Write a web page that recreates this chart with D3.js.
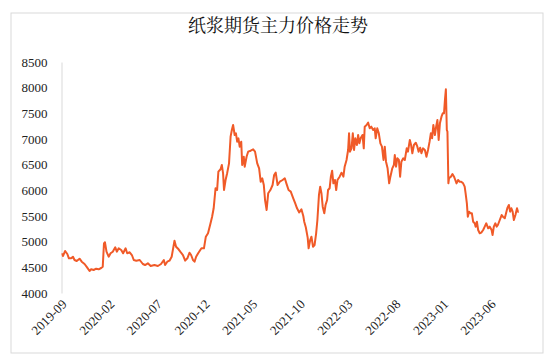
<!DOCTYPE html>
<html><head><meta charset="utf-8">
<script src="https://cdn.jsdelivr.net/npm/d3@7"></script>
<style>
html,body{margin:0;padding:0;background:#fff;}
svg{display:block;}
.tick text{font-family:"Liberation Serif","Times New Roman",serif;}
</style></head>
<body>
<svg id="chart" width="550" height="359"></svg>
<script>
const title = "纸浆期货主力价格走势";
const yTicks = [4000,4500,5000,5500,6000,6500,7000,7500,8000,8500];
const xTickLabels = ["2019-09","2020-02","2020-07","2020-12","2021-05","2021-10","2022-03","2022-08","2023-01","2023-06"];
const dates = [
"2019-09-02","2019-09-04","2019-09-11","2019-09-18","2019-09-23","2019-09-30","2019-10-06","2019-10-11","2019-10-18","2019-10-27",
"2019-11-03","2019-11-12","2019-11-20","2019-11-28","2019-12-03","2019-12-11","2019-12-19","2019-12-27","2020-01-04","2020-01-09",
"2020-01-13","2020-01-16","2020-01-21","2020-01-28","2020-02-03","2020-02-10","2020-02-18","2020-02-23","2020-02-29","2020-03-08",
"2020-03-14","2020-03-22","2020-03-27","2020-04-04","2020-04-11","2020-04-17","2020-04-25","2020-05-06","2020-05-16","2020-05-23",
"2020-06-01","2020-06-10","2020-06-22","2020-07-03","2020-07-13","2020-07-22","2020-07-26","2020-08-02","2020-08-09","2020-08-16",
"2020-08-25","2020-08-30","2020-09-07","2020-09-13","2020-09-21","2020-09-28","2020-10-05","2020-10-12","2020-10-17","2020-10-23",
"2020-10-28","2020-11-02","2020-11-09","2020-11-19","2020-11-27","2020-12-03","2020-12-10","2020-12-18","2020-12-23","2020-12-28",
"2021-01-03","2021-01-08","2021-01-12","2021-01-19","2021-01-23","2021-01-27","2021-01-30","2021-02-04","2021-02-09","2021-02-15",
"2021-02-20","2021-02-24","2021-02-28","2021-03-05","2021-03-09","2021-03-13","2021-03-17","2021-03-21","2021-03-26","2021-03-29",
"2021-04-03","2021-04-06","2021-04-12","2021-04-17","2021-04-25","2021-05-03","2021-05-09","2021-05-16","2021-05-22","2021-05-27",
"2021-06-01","2021-06-06","2021-06-10","2021-06-15","2021-06-20","2021-06-27","2021-07-04","2021-07-09","2021-07-14","2021-07-20",
"2021-07-27","2021-08-05","2021-08-12","2021-08-17","2021-08-24","2021-08-31","2021-09-08","2021-09-14","2021-09-20","2021-09-27",
"2021-10-04","2021-10-10","2021-10-13","2021-10-18","2021-10-24","2021-10-27","2021-11-01","2021-11-05","2021-11-10","2021-11-15",
"2021-11-20","2021-11-24","2021-11-29","2021-12-03","2021-12-07","2021-12-11","2021-12-16","2021-12-20","2021-12-25","2021-12-28",
"2022-01-02","2022-01-06","2022-01-10","2022-01-14","2022-01-19","2022-01-23","2022-01-27","2022-02-03","2022-02-09","2022-02-15",
"2022-02-19","2022-02-25","2022-03-02","2022-03-05","2022-03-08","2022-03-13","2022-03-17","2022-03-21","2022-03-25","2022-03-30",
"2022-04-03","2022-04-07","2022-04-11","2022-04-17","2022-04-21","2022-04-24","2022-04-30","2022-05-05","2022-05-10","2022-05-15",
"2022-05-21","2022-05-26","2022-05-29","2022-06-03","2022-06-08","2022-06-13","2022-06-18","2022-06-23","2022-06-27","2022-07-01",
"2022-07-06","2022-07-11","2022-07-15","2022-07-21","2022-07-26","2022-07-29","2022-08-02","2022-08-06","2022-08-11","2022-08-15",
"2022-08-19","2022-08-25","2022-08-30","2022-09-05","2022-09-09","2022-09-15","2022-09-19","2022-09-23","2022-09-28","2022-10-04",
"2022-10-09","2022-10-13","2022-10-18","2022-10-22","2022-10-27","2022-11-02","2022-11-07","2022-11-12","2022-11-17","2022-11-21",
"2022-11-25","2022-11-29","2022-12-04","2022-12-08","2022-12-12","2022-12-16","2022-12-20","2022-12-25","2022-12-29","2023-01-02",
"2023-01-05","2023-01-08","2023-01-11","2023-01-13","2023-01-16","2023-01-18","2023-01-24","2023-01-29","2023-02-03","2023-02-07",
"2023-02-11","2023-02-16","2023-02-21","2023-02-26","2023-03-04","2023-03-09","2023-03-12","2023-03-16","2023-03-19","2023-03-23",
"2023-03-28","2023-04-01","2023-04-05","2023-04-10","2023-04-13","2023-04-17","2023-04-21","2023-04-26","2023-05-01","2023-05-07",
"2023-05-12","2023-05-17","2023-05-23","2023-05-28","2023-06-03","2023-06-06","2023-06-10","2023-06-15","2023-06-19","2023-06-23",
"2023-06-29","2023-07-05","2023-07-09","2023-07-15","2023-07-19","2023-07-23","2023-07-28","2023-08-01","2023-08-05","2023-08-09",
"2023-08-13","2023-08-18","2023-08-23","2023-08-26","2023-08-29"
];
const prices = [
4773,4720,4818,4760,4676,4676,4707,4643,4623,4668,
4610,4565,4500,4428,4462,4448,4473,4462,4487,4512,
4968,4988,4805,4707,4773,4805,4890,4805,4871,4838,
4773,4871,4773,4793,4740,4643,4630,4643,4565,4545,
4578,4526,4545,4526,4565,4643,4545,4610,4630,4707,
5019,4902,4851,4800,4740,4630,4676,4785,4740,4643,
4610,4707,4780,4871,4871,5097,5163,5358,5486,5650,
6040,6006,6363,6410,6494,6332,6006,6201,6332,6526,
7045,7175,7273,7078,7111,6948,7013,6850,6948,6494,
6655,6460,6655,6753,6772,6799,6753,6526,6429,6168,
6234,6104,5812,5617,5942,6006,6104,6299,6344,6104,
6168,6201,6234,6136,6006,5974,5845,5750,5650,5570,
5630,5500,5389,5280,5080,4871,5032,5097,4902,4935,
5163,5422,5909,6071,5942,5681,5552,5714,5812,6006,
6040,6266,6383,6136,6201,6006,6201,6266,6344,6266,
6460,6591,6786,7111,6753,6818,7111,6786,7013,6883,
7078,6916,7013,7078,6818,7240,7273,7318,7208,7240,
7175,7208,7013,7208,7111,6916,6850,6591,6850,6558,
6429,6136,6266,6429,6494,6688,6460,6624,6591,6266,
6558,6624,6591,6818,6753,6981,6883,6721,6883,6928,
6850,6753,6830,6721,6818,6786,6655,6786,6948,7111,
7013,7273,7078,7240,7370,6981,7305,7435,7500,7500,
7760,7968,7175,7143,6136,6234,6266,6318,6266,6201,
6136,6201,6168,6168,6136,6071,5942,5747,5486,5584,
5552,5552,5389,5358,5292,5389,5227,5163,5175,5227,
5292,5358,5260,5292,5227,5130,5292,5358,5292,5325,
5422,5519,5486,5455,5552,5650,5714,5584,5650,5584,
5422,5519,5650,5584,5584
];

const svg = d3.select("#chart");
const parse = d3.timeParse("%Y-%m-%d");
const parseM = d3.timeParse("%Y-%m");
const data = dates.map((d,i)=>({date:parse(d), value:prices[i]}));

// outer frame
svg.append("rect").attr("x",11).attr("y",13).attr("width",532).attr("height",340)
  .attr("fill","#fff").attr("stroke","#d9d9d9").attr("stroke-width",1);

// title
svg.append("text").attr("x",278).attr("y",32).attr("text-anchor","middle")
  .style("font-family","'Noto Serif CJK SC', 'Noto Sans CJK SC', serif").style("font-size","18px")
  .attr("fill","#111").text(title);

const tickDates = xTickLabels.map(parseM);
const x = d3.scaleTime().domain([tickDates[0], tickDates[tickDates.length-1]]).range([62, 491]);
const y = d3.scaleLinear().domain([4000, 8500]).range([293, 62]);

// y axis
const yAxis = svg.append("g").attr("transform","translate(61.5,0)")
  .call(d3.axisLeft(y).tickValues(yTicks).tickSize(0).tickSizeOuter(0).tickPadding(14).tickFormat(d3.format("d")));
yAxis.attr("font-family",null);
yAxis.select(".domain").attr("stroke","#d9d9d9");
yAxis.selectAll("text").style("font-family","'Liberation Serif','Times New Roman',serif").style("font-size","13px").attr("fill","#222");

// x axis labels
const xAxis = svg.append("g").attr("transform","translate(0,293)")
  .call(d3.axisBottom(x).tickValues(tickDates).tickSize(0).tickFormat(d3.timeFormat("%Y-%m")));
xAxis.attr("font-family",null);
xAxis.select(".domain").remove();
xAxis.selectAll("text")
  .style("font-family","'Liberation Serif','Times New Roman',serif").style("font-size","13px").attr("fill","#222")
  .attr("text-anchor","end").attr("dy",null).attr("y",0)
  .attr("transform","translate(5,12) rotate(-45)");

// line
const line = d3.line().x(d=>x(d.date)).y(d=>y(d.value));
svg.append("path").datum(data).attr("d",line)
  .attr("fill","none").attr("stroke","#F05A28").attr("stroke-width",2).attr("stroke-linejoin","round");
</script>
</body></html>
